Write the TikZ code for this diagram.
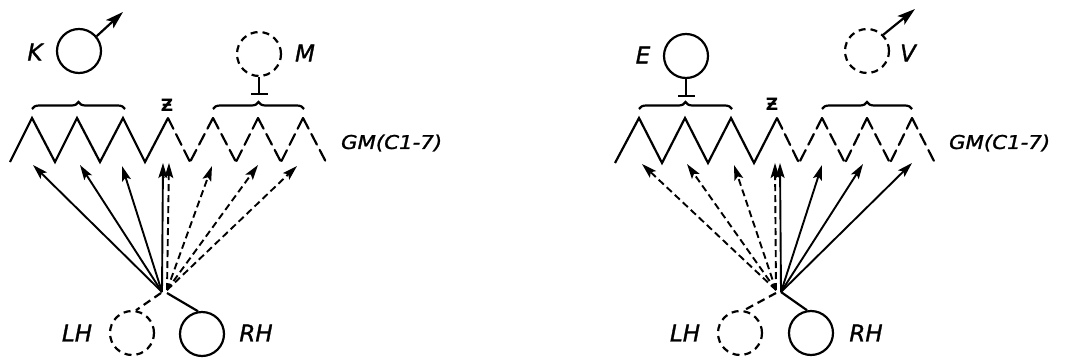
\documentclass[tikz,border=0pt]{standalone}
\usepackage{fontspec}
\newfontfamily\lab{DejaVu Sans}[ItalicFeatures={FakeBold=1.2}]
\usetikzlibrary{arrows.meta,decorations.pathreplacing}
\begin{document}
\begin{tikzpicture}[x=1pt,y=-1pt, line width=2.2pt,
  lbl/.style={font=\lab\itshape\fontsize{23}{23}\selectfont, inner sep=0},
  gmlbl/.style={font=\lab\itshape\fontsize{19}{19}\selectfont, inner sep=0, anchor=west},
  zlbl/.style={font=\lab\bfseries\fontsize{17}{17}\selectfont, inner sep=0},
  unit/.style={circle, draw, minimum size=44pt, inner sep=0},
  dunit/.style={unit, dash pattern=on 7pt off 5pt},
  dsh/.style={dash pattern=on 8pt off 5pt},
  zzd/.style={dash pattern=on 12pt off 6pt, line cap=round},
  arr/.style={-{Stealth[length=15pt,width=9pt,inset=3pt]}, line width=1.9pt},
  bigarr/.style={-{Stealth[length=18pt,width=11pt,inset=4pt]}},
  darr/.style={arr, dash pattern=on 7pt off 4pt},
  inhib/.style={-{Bar[width=17pt]}},
  br/.style={decorate, decoration={brace, amplitude=7pt}},
]
\useasboundingbox (0,0) rectangle (1067,359);

% ---------------- left panel ----------------
\node[unit] (K) at (79,51) {};
\node[lbl] (Kl) at (35,52) {K};
\coordinate (Kt) at (123,12);
\draw[bigarr] (K.40) -- (Kt);

\node[dunit] (M) at (259,54) {};
\node[lbl] (Ml) at (305,53) {M};
\coordinate (Mb) at (259,95);
\draw[inhib] (M.south) -- (Mb);

\coordinate (b1a) at (32,109); \coordinate (b1b) at (125,109);
\draw[br] (b1a) -- (b1b);
\coordinate (b2a) at (213,109); \coordinate (b2b) at (304,109);
\draw[br] (b2a) -- (b2b);
\node[zlbl] (Z1) at (167,105) {Ƶ};

\draw[line join=miter] (10,162) -- (32,118) -- (55,162) -- (77,118) -- (100,162) -- (123,118) -- (145,162) -- (168,118);
\foreach \a/\b in {168/190,213/190,213/236,258/236,258/281,303/281}{
  \draw[zzd] (\a,118) -- (\b,162);
}
\draw[zzd] (303,118) -- (326,162);
\node[gmlbl] (GM1) at (340,143) {\scalebox{1.12}[1]{GM(C1-7)}};

\coordinate (Os) at (162,292);
\coordinate (Od) at (167,290);
\coordinate (t1) at (33,165);
\coordinate (t2) at (80,165);
\coordinate (t3) at (122,166);
\coordinate (t4) at (163,163);
\coordinate (t5) at (169,163);
\coordinate (t6) at (212,166);
\coordinate (t7) at (258,165);
\coordinate (t8) at (297,166);
\foreach \t in {t1,t2,t3,t4}{\draw[arr] (Os) -- (\t);}
\foreach \t in {t5,t6,t7,t8}{\draw[darr] (Od) -- (\t);}

\node[dunit] (LH1) at (132,333) {};
\node[lbl] (LH1l) at (77,333) {LH};
\node[unit] (RH1) at (202,334) {};
\node[lbl] (RH1l) at (256,333) {RH};
\draw[dsh] (Os) ++(-1,1) coordinate (Ls) -- (LH1.80);
\draw (Od) ++(0,3) coordinate (Rs) -- (RH1.100);

% ---------------- right panel ----------------
\node[unit] (E) at (686,56) {};
\node[lbl] (El) at (643,55) {E};
\coordinate (Eb) at (686,97);
\draw[inhib] (E.south) -- (Eb);

\node[dunit] (V) at (867,51) {};
\node[lbl] (Vl) at (908,53) {V};
\coordinate (Vt) at (915,9);
\draw[bigarr] (V.45) -- (Vt);

\coordinate (b3a) at (639,109); \coordinate (b3b) at (732,109);
\draw[br] (b3a) -- (b3b);
\coordinate (b4a) at (822,109); \coordinate (b4b) at (912,109);
\draw[br] (b4a) -- (b4b);
\node[zlbl] (Z2) at (772,104) {Ƶ};

\draw[line join=miter] (615,163) -- (639,118) -- (662,163) -- (685,118) -- (708,163) -- (731,118) -- (754,163) -- (777,118);
\foreach \a/\b in {777/799,822/799,822/845,867/845,867/890,912/890,912/935}{
  \draw[zzd] (\a,118) -- (\b,163);
}
\node[gmlbl] (GM2) at (948,143) {\scalebox{1.12}[1]{GM(C1-7)}};

\coordinate (Rd) at (776,290);
\coordinate (Rs2) at (781,292);
\coordinate (u1) at (642,164);
\coordinate (u2) at (687,164);
\coordinate (u3) at (734,165);
\coordinate (u4) at (775,163);
\coordinate (u5) at (780,163);
\coordinate (u6) at (822,165);
\coordinate (u7) at (863,164);
\coordinate (u8) at (912,163);
\foreach \t in {u1,u2,u3,u4}{\draw[darr] (Rd) -- (\t);}
\foreach \t in {u5,u6,u7,u8}{\draw[arr] (Rs2) -- (\t);}

\node[dunit] (LH2) at (740,333) {};
\node[lbl] (LH2l) at (685,333) {LH};
\node[unit] (RH2) at (811,333) {};
\node[lbl] (RH2l) at (866,333) {RH};
\draw[dsh] (Rd) ++(0,3) coordinate (Ls2) -- (LH2.80);
\draw (Rs2) -- (RH2.100);
\end{tikzpicture}
\end{document}
